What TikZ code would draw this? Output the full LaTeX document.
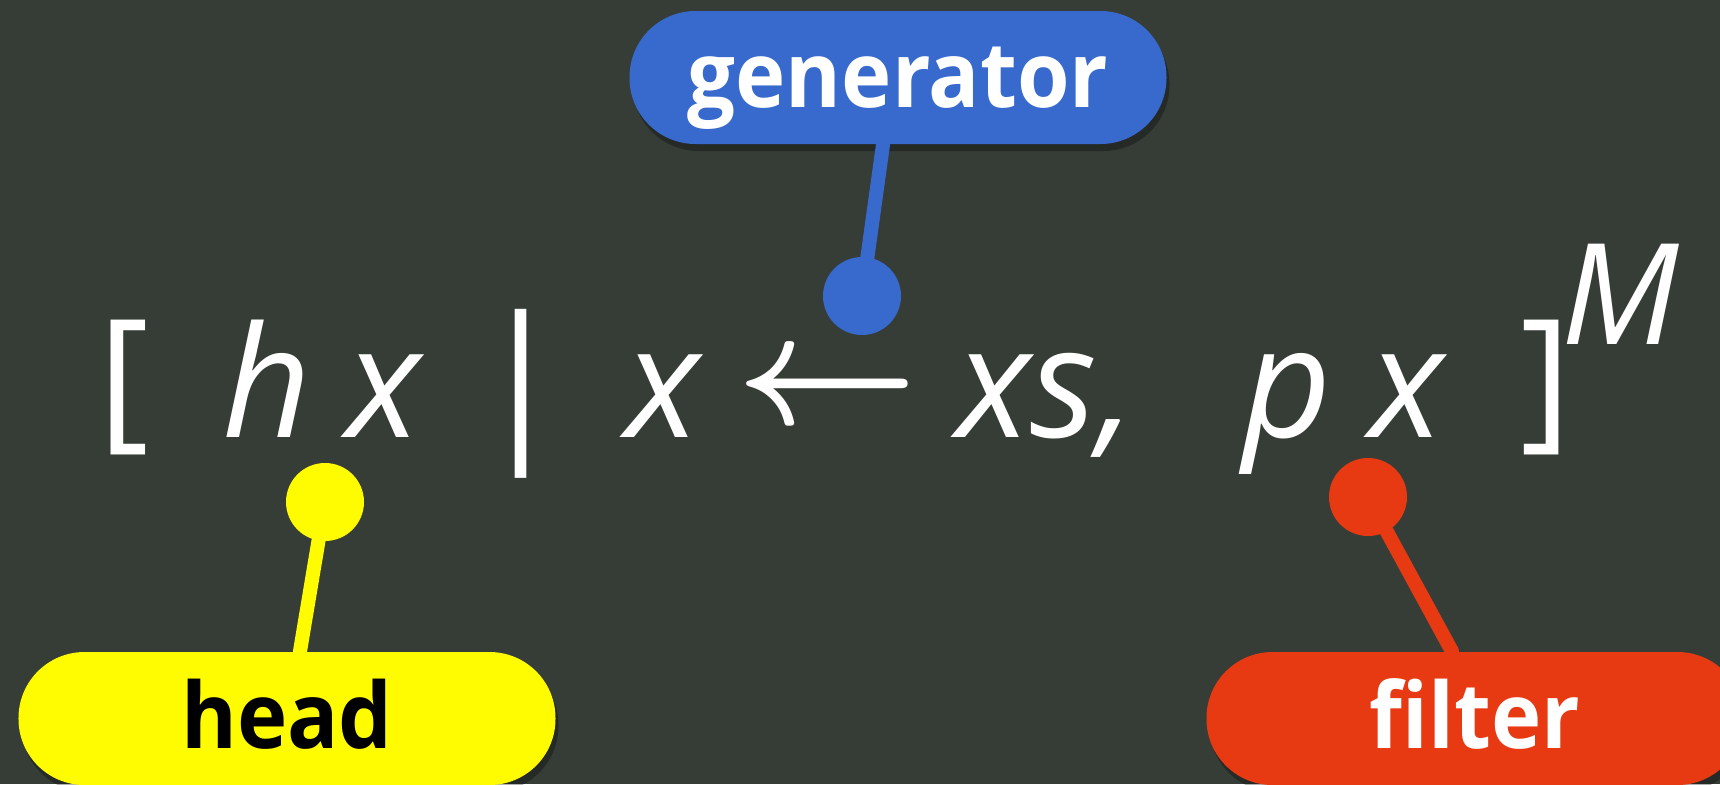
\RequirePackage{fix-cm}
\documentclass[tikz,border=0pt]{standalone}
\usepackage{fontspec}
\setmainfont{Open Sans}
\newfontfamily\tagfont{Open Sans}[FakeStretch=0.93]
\usetikzlibrary{positioning, shadows}
\definecolor{cBg}{HTML}{363D37}
\definecolor{cGen}{HTML}{3869CD}
\definecolor{cHead}{HTML}{FFFB00}
\definecolor{cFilt}{HTML}{E83A12}

\begin{document}
\begin{tikzpicture}[
    tag/.style={rounded corners=6.6mm, minimum height=13.3mm, minimum width=53.7mm,
      inner sep=0pt, text height=6mm, text depth=0pt,
      font=\tagfont\bfseries\fontsize{26}{30}\selectfont,
      drop shadow={shadow xshift=0.3mm, shadow yshift=-0.7mm, opacity=0.3, fill=black}},
    dot/.style={circle, minimum size=7.8mm, inner sep=0pt},
    stem/.style={line width=4pt, line cap=round},
    sym/.style={text=white, anchor=base, inner sep=0pt,
      font=\itshape\fontsize{44}{50}\selectfont},
    fence/.style={sym, font=\fontsize{44}{50}\selectfont},
  ]
  \fill[cBg] (0,0) rectangle (17.2,7.84);
  \useasboundingbox (0,0) rectangle (17.2,7.84);

  % the comprehension
  \node[fence] (lbrak) at (1.235,3.54) {[};
  \node[fence, font=\fontsize{48}{54}\selectfont] (bar) at (5.21,3.47) {|};
  \node[fence] (rbrak) at (15.46,3.54) {]};
  \foreach \nm/\xx/\tx in {hh/2.675/h, xa/3.84/x, xb/6.63/x,
      xs/10.46/{xs,}, pp/12.87/p, xc/14.07/x}{
    \node[sym] (\nm) at (\xx,3.47) {\tx};
  }
  \node[text=white, inner sep=0pt, font=\boldmath\fontsize{45}{50}\selectfont]
    (arr) at (8.27,3.91) {$\leftarrow$};
  \node[sym, font=\itshape\fontsize{40}{48}\selectfont] (sup) at (16.20,4.40) {M};

  % tags
  \node[tag, fill=cGen, text=white] (gen) at (8.98,7.065) {generator};
  \node[tag, fill=cHead, text=black] (head) at (2.87,0.655) {head};
  \node[tag, fill=cFilt, text=white] (filt) at (14.75,0.655) {filter};

  % pins
  \node[dot, fill=cGen] (genDot) at (8.62,4.88) {};
  \node[dot, fill=cHead] (headDot) at (3.25,2.82) {};
  \node[dot, fill=cFilt] (filtDot) at (13.68,2.87) {};
  \draw[stem, cGen] (genDot.center) -- ([xshift=-1.5mm]gen.south);
  \draw[stem, cHead] (headDot.center) -- ([xshift=1.3mm]head.north);
  \draw[stem, cFilt] (filtDot.center) -- ([xshift=-2.3mm]filt.north);
\end{tikzpicture}
\end{document}
